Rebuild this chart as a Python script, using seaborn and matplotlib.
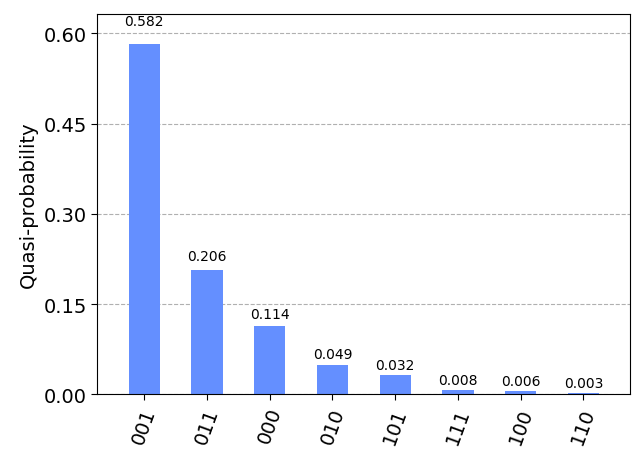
import matplotlib
matplotlib.use("Agg")
import matplotlib.pyplot as plt
import seaborn as sns
import pandas as pd

labels = ["001", "011", "000", "010", "101", "111", "100", "110"]
values = [0.582, 0.206, 0.114, 0.049, 0.032, 0.008, 0.006, 0.003]

sns.set_style("white")
plt.rcParams.update({"text.color": "black", "axes.labelcolor": "black",
                     "xtick.color": "black", "ytick.color": "black"})
fig = plt.figure(figsize=(6.4, 4.56), dpi=100)
ax = fig.add_axes([0.152, 0.133, 0.833, 0.835])
df = pd.DataFrame({"state": labels, "p": values})
sns.barplot(data=df, x="state", y="p", color="#648fff", saturation=1, width=0.5,
            ax=ax, zorder=2, linewidth=0)
for i, v in enumerate(values):
    ax.text(i, v * 1.04 + 0.004, f"{v:.3f}", ha="center", va="bottom", fontsize=10)
ax.set_ylim(0, 0.633)
ax.set_yticks([0, 0.15, 0.30, 0.45, 0.60])
ax.set_yticklabels(["0.00", "0.15", "0.30", "0.45", "0.60"], fontsize=14)
ax.set_xlim(-0.75, len(labels) - 0.25)
ax.set_xticks(range(len(labels)))
ax.set_xticklabels(labels, rotation=70, fontsize=14)
ax.yaxis.grid(True, linestyle="--", color="#b0b0b0", zorder=0)
ax.set_axisbelow(True)
ax.set_xlabel("")
ax.set_ylabel("Quasi-probability", fontsize=14)
ax.tick_params(axis="both", length=4, left=True, bottom=True)
for s in ax.spines.values():
    s.set_color("black")
fig.savefig("out.png", dpi=100)
